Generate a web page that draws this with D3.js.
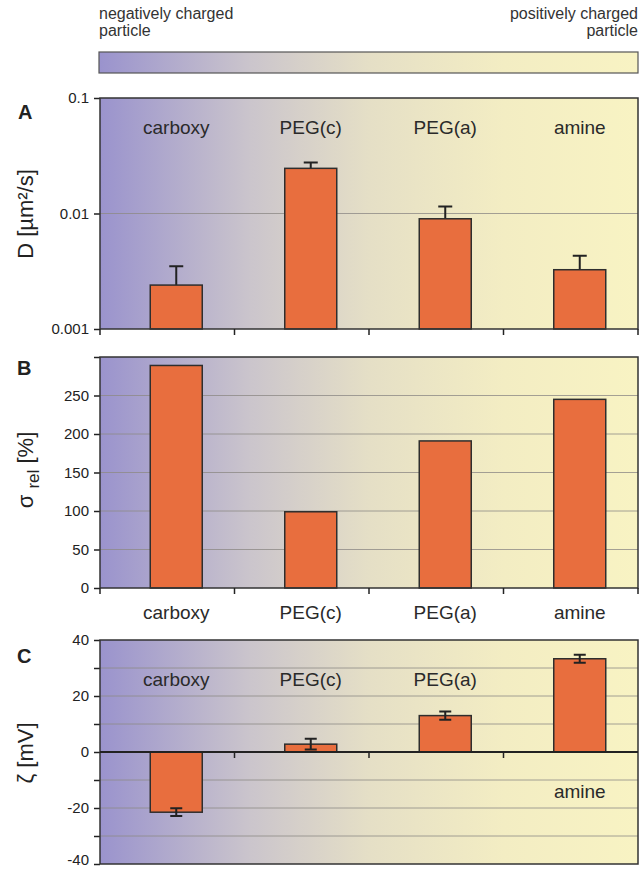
<!DOCTYPE html>
<html lang="en">
<head>
<meta charset="utf-8">
<title>Particle charge panels</title>
<script src="https://cdn.jsdelivr.net/npm/d3@7"></script>
<style>
  body { margin: 0; background: #fff; }
  svg { font-family: "Liberation Sans", Arial, sans-serif; }
  .cat { font-size: 19px; fill: #2a2a2a; text-anchor: middle; }
  .ytitle { font-size: 22px; fill: #222; text-anchor: middle; }
  .letter { font-size: 20px; font-weight: bold; fill: #222; }
  .note { font-size: 16px; fill: #333; }
  .bar { fill: #e86e3e; stroke: #2e2e2e; stroke-width: 1.5; }
  .grid { stroke: #8e8a86; stroke-width: 0.8; }
  .err { stroke: #222; stroke-width: 2; fill: none; }
</style>
</head>
<body>
<svg id="chart" width="640" height="869"></svg>
<script>
var categories = ["carboxy", "PEG(c)", "PEG(a)", "amine"];
var diffusion = [0.0024, 0.0246, 0.0090, 0.00326];
var diffusionErr = [0.0011, 0.0031, 0.0025, 0.00105];
var sigmaRel = [289, 99, 191, 245];
var zeta = [-21.5, 2.8, 13, 33.3];
var zetaErr = [1.4, 1.9, 1.5, 1.4];
var logTicks = [0.001, 0.01, 0.1];
var sigmaTicks = [0, 50, 100, 150, 200, 250, 300];
var zetaTicks = [-40, -30, -20, -10, 0, 10, 20, 30, 40];

var svg = d3.select("#chart");
var left = 100, right = 638;
var barW = 52, barShift = 9;

var x = d3.scaleBand().domain(categories).range([left, right]);
function cx(c) { return x(c) + x.bandwidth() / 2 + barShift; }
var boundaries = categories.map(function(c) { return x(c); }).concat([right]);

// gradient for backgrounds
var grad = svg.append("defs").append("linearGradient").attr("id", "bg")
  .attr("gradientUnits", "userSpaceOnUse")
  .attr("x1", left).attr("x2", right).attr("y1", 0).attr("y2", 0);
[[0, "#9a93cd"], [0.28, "#cbc5cc"], [0.5, "#e5dfc6"], [0.75, "#f3edc3"], [1, "#f8f3c3"]].forEach(function(s) {
  grad.append("stop").attr("offset", s[0]).attr("stop-color", s[1]);
});

// colour bar at the top
svg.append("rect").attr("x", 99).attr("y", 52).attr("width", right - 99).attr("height", 21)
  .attr("fill", "url(#bg)").attr("stroke", "#555").attr("stroke-width", 1.2);
svg.append("text").attr("class", "note").attr("x", 99).attr("y", 19).text("negatively charged");
svg.append("text").attr("class", "note").attr("x", 99).attr("y", 36).text("particle");
svg.append("text").attr("class", "note").attr("x", right).attr("y", 19).attr("text-anchor", "end").text("positively charged");
svg.append("text").attr("class", "note").attr("x", right).attr("y", 36).attr("text-anchor", "end").text("particle");

// shared pieces
function backdrop(y) {
  var g = svg.append("g");
  var r = y.range();
  g.append("rect").attr("x", left).attr("y", r[1]).attr("width", right - left).attr("height", r[0] - r[1])
    .attr("fill", "url(#bg)");
  return g;
}
function grid(g, y, values) {
  g.selectAll(".grid").data(values).enter().append("line").attr("class", "grid")
    .attr("x1", left).attr("x2", right)
    .attr("y1", function(d) { return y(d); }).attr("y2", function(d) { return y(d); });
}
function leftAxis(g, axis) {
  var ag = g.append("g").attr("transform", "translate(" + left + ",0)").call(axis.tickSize(6).tickPadding(5));
  ag.attr("font-size", 15).attr("font-family", "Liberation Sans, Arial, sans-serif");
  ag.select(".domain").remove();
  ag.selectAll("line").attr("stroke", "#222").attr("stroke-width", 1.5);
  ag.selectAll("text").attr("font-size", 15).attr("fill", "#222");
  return ag;
}
function frame(g, y) {
  var r = y.range();
  g.append("rect").attr("x", left).attr("y", r[1]).attr("width", right - left).attr("height", r[0] - r[1])
    .attr("fill", "none").attr("stroke", "#333").attr("stroke-width", 1.5);
}
function bottomTicks(g, yPos, values) {
  g.selectAll(".bt").data(values).enter().append("line")
    .attr("x1", function(d) { return d; }).attr("x2", function(d) { return d; })
    .attr("y1", yPos).attr("y2", yPos + 6).attr("stroke", "#222").attr("stroke-width", 1.5);
}
function bars(g, y, values, base) {
  g.selectAll(".bar").data(categories).enter().append("rect").attr("class", "bar")
    .attr("x", function(c) { return cx(c) - barW / 2; }).attr("width", barW)
    .attr("y", function(c, i) { return Math.min(y(values[i]), y(base)); })
    .attr("height", function(c, i) { return Math.abs(y(base) - y(values[i])); });
}

// ---- Panel A ----
var yA = d3.scaleLog().domain([0.001, 0.1]).range([329, 98]);
var gA = backdrop(yA);
grid(gA, yA, [0.01]);
leftAxis(gA, d3.axisLeft(yA).tickValues(logTicks).tickFormat(function(d) { return String(d); }));
gA.selectAll(".err").data(categories).enter().append("path").attr("class", "err")
  .attr("d", function(c, i) {
    var xc = cx(c), y0 = yA(diffusion[i]), y1 = yA(diffusion[i] + diffusionErr[i]);
    return "M" + xc + "," + y0 + "V" + y1 + "M" + (xc - 7) + "," + y1 + "H" + (xc + 7);
  });
bars(gA, yA, diffusion, 0.001);
frame(gA, yA);
bottomTicks(gA, 329, boundaries);
gA.selectAll(".cat").data(categories).enter().append("text").attr("class", "cat")
  .attr("x", cx).attr("y", 134).text(function(c) { return c; });
svg.append("text").attr("class", "letter").attr("x", 18).attr("y", 119).text("A");
svg.append("text").attr("class", "ytitle").attr("transform", "translate(33,214) rotate(-90)")
  .text("D [µm²/s]");

// ---- Panel B ----
var yB = d3.scaleLinear().domain([0, 300]).range([588, 357]);
var gB = backdrop(yB);
grid(gB, yB, sigmaTicks.slice(1, 6));
leftAxis(gB, d3.axisLeft(yB).tickValues(sigmaTicks).tickFormat(function(d) { return d === 300 ? "" : d; }));
bars(gB, yB, sigmaRel, 0);
frame(gB, yB);
bottomTicks(gB, 588, boundaries);
gB.selectAll(".cat").data(categories).enter().append("text").attr("class", "cat")
  .attr("x", cx).attr("y", 619).text(function(c) { return c; });
svg.append("text").attr("class", "letter").attr("x", 17).attr("y", 375).text("B");
var tB = svg.append("text").attr("class", "ytitle").attr("transform", "translate(33,470) rotate(-90)");
tB.append("tspan").text("σ ");
tB.append("tspan").attr("font-size", 17).attr("dy", 6).text("rel");
tB.append("tspan").attr("dy", -6).text(" [%]");

// ---- Panel C ----
var yC = d3.scaleLinear().domain([-40, 40]).range([864, 640]);
var gC = backdrop(yC);
grid(gC, yC, zetaTicks.filter(function(d) { return d !== 0 && Math.abs(d) !== 40; }));
var axC = leftAxis(gC, d3.axisLeft(yC).tickValues(zetaTicks).tickFormat(function(d) { return d % 20 === 0 ? d : ""; }));
axC.selectAll(".tick text").filter(function(d) { return d === -40; }).attr("dy", "0.05em");
bars(gC, yC, zeta, 0);
gC.selectAll(".err").data(categories).enter().append("path").attr("class", "err")
  .attr("d", function(c, i) {
    var xc = cx(c), y1 = yC(zeta[i] + zetaErr[i]), y2 = yC(zeta[i] - zetaErr[i]);
    return "M" + xc + "," + y1 + "V" + y2 + "M" + (xc - 6) + "," + y1 + "H" + (xc + 6) +
      "M" + (xc - 6) + "," + y2 + "H" + (xc + 6);
  });
frame(gC, yC);
gC.append("line").attr("x1", left).attr("x2", right).attr("y1", yC(0)).attr("y2", yC(0))
  .attr("stroke", "#222").attr("stroke-width", 2);
bottomTicks(gC, yC(0), boundaries.slice(1, 4));
var zetaLabelY = [26, 26, 26, -14];
gC.selectAll(".cat").data(categories).enter().append("text").attr("class", "cat")
  .attr("x", cx).attr("y", function(c, i) { return yC(zetaLabelY[i]) + 7; }).text(function(c) { return c; });
svg.append("text").attr("class", "letter").attr("x", 17).attr("y", 663).text("C");
svg.append("text").attr("class", "ytitle").attr("transform", "translate(33,753) rotate(-90)")
  .text("ζ [mV]");
</script>
</body>
</html>
